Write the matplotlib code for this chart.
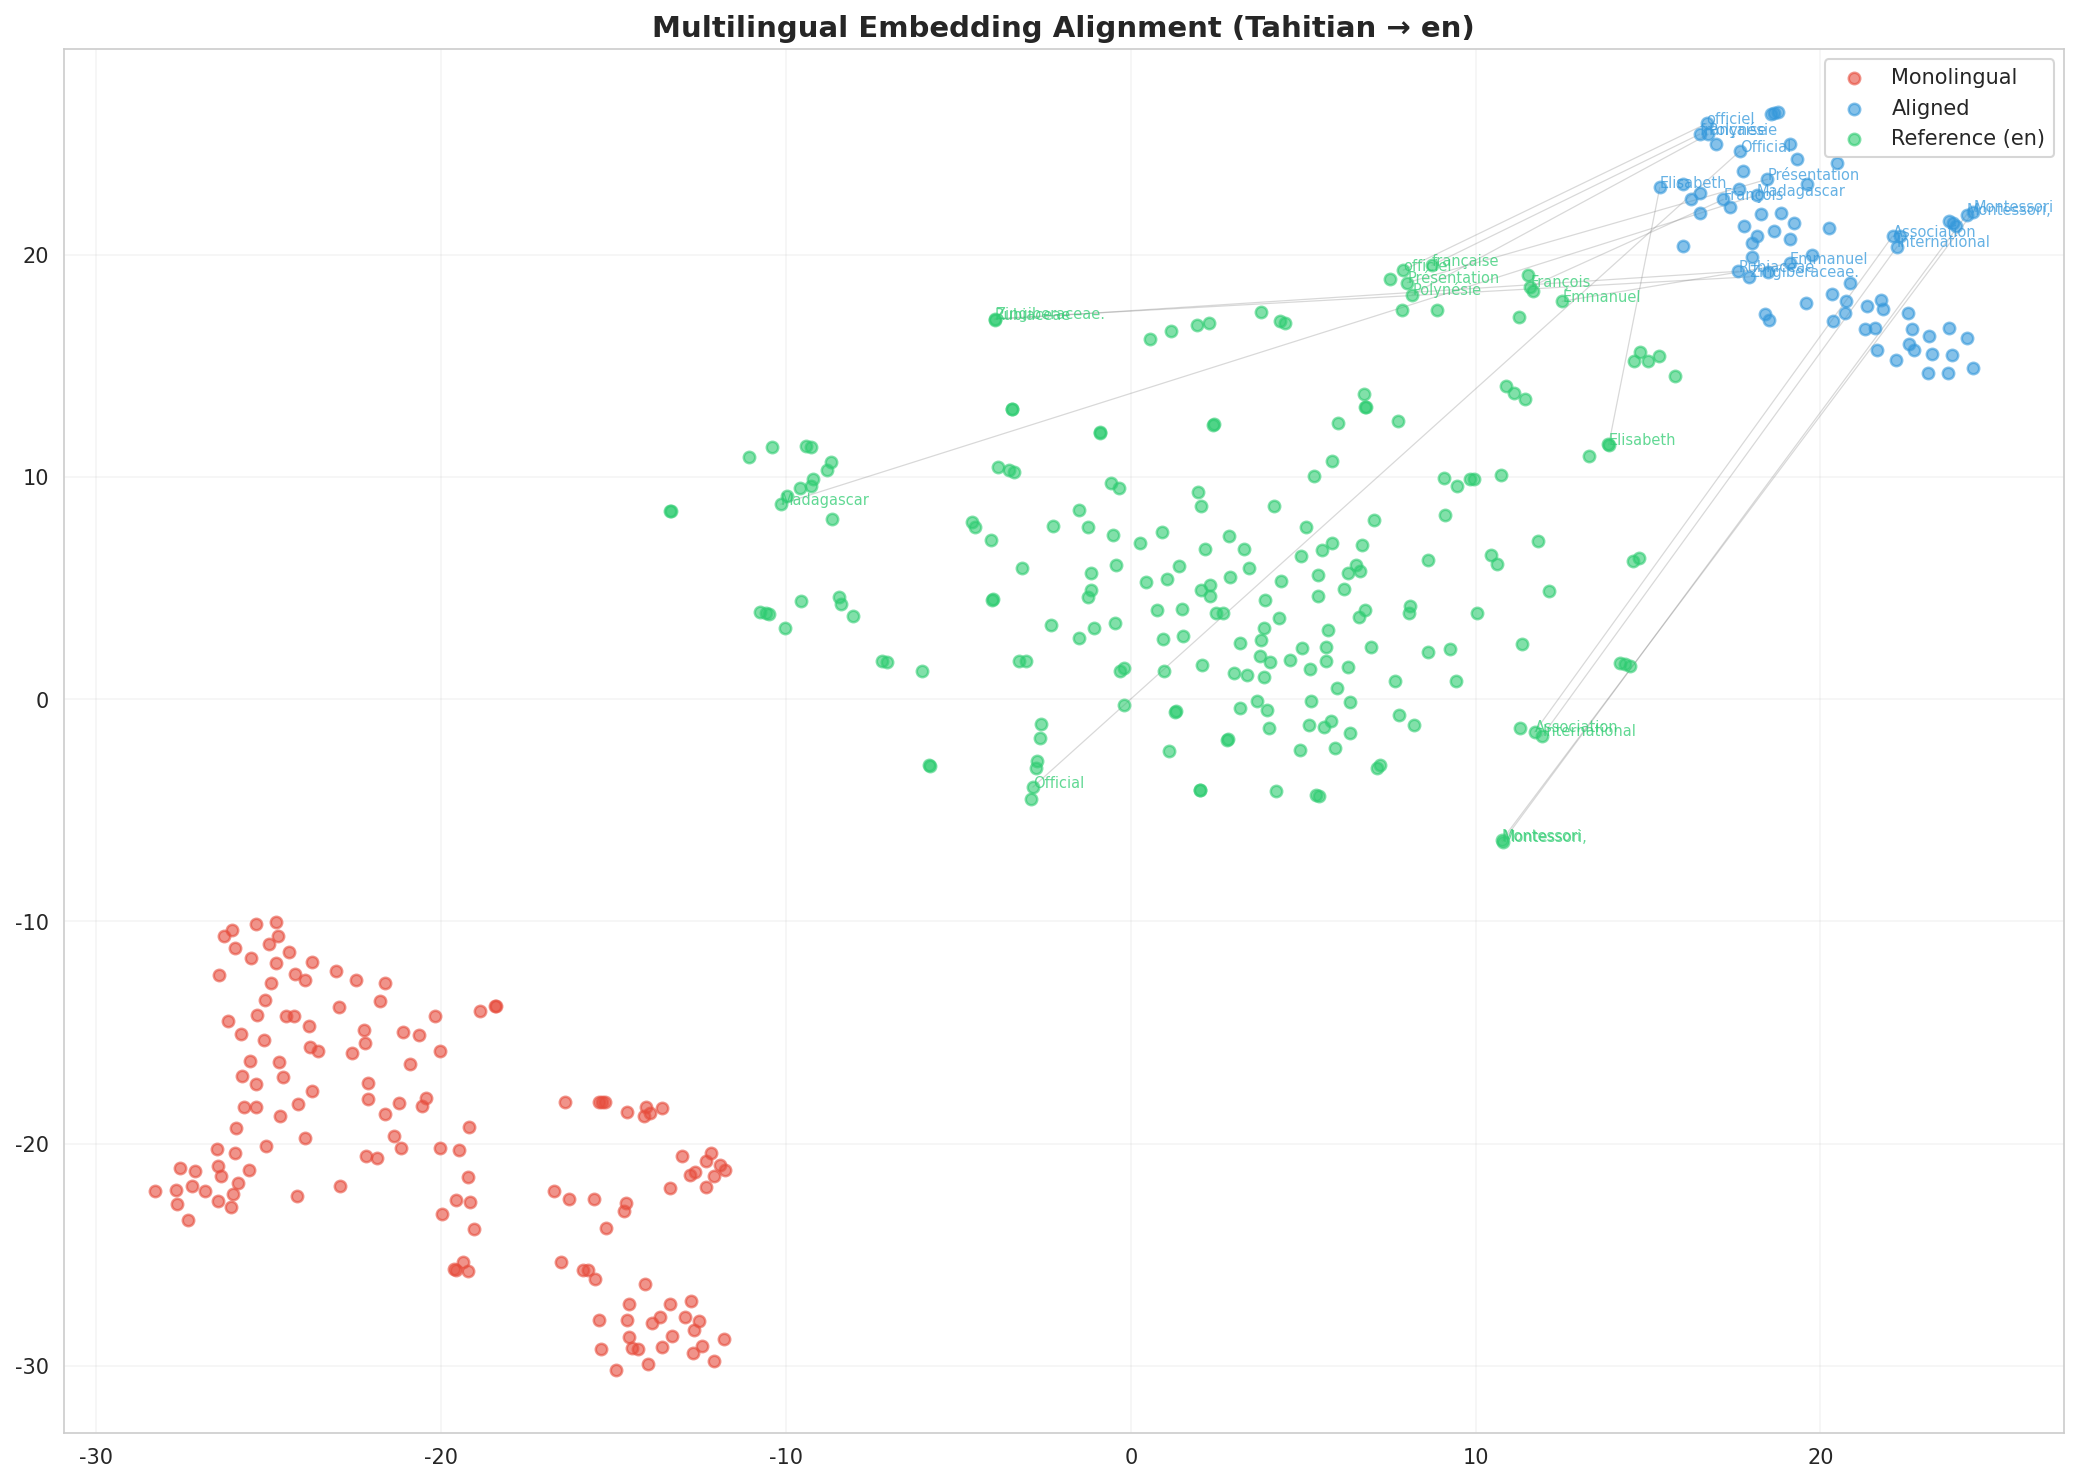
import matplotlib
matplotlib.use("Agg")
import matplotlib.pyplot as plt
import seaborn as sns
import numpy as np

sns.set_style("whitegrid")
plt.rcParams['font.family'] = ['DejaVu Sans']
plt.rcParams['axes.unicode_minus'] = False

# ---------------- data ----------------
mono_x = [-26.07, -26.30, -25.38, -24.80, -24.74, -25.00, -25.98, -24.42, -25.52, -24.78,
          -23.73, -26.43, -24.25, -23.96, -23.05, -22.47, -21.63, -24.94, -25.11, -22.97,
          -21.76, -25.35, -24.51, -24.27, -26.19, -23.84, -25.81, -25.14, -22.24, -22.22,
          -21.11, -20.65, -20.18, -18.86, -18.45, -18.40, -23.79, -23.58, -22.59, -20.04,
          -25.55, -24.71, -20.91, -25.78, -24.59, -25.36, -23.73, -22.11, -22.12, -25.72,
          -25.38, -24.14, -21.23, -20.44, -20.56, -21.64, -24.68, -25.94, -19.20, -23.95,
          -21.37, -21.17, -26.49, -25.98, -25.07, -20.04, -19.47, -22.19, -21.87, -27.58,
          -27.14, -26.46, -26.39, -25.58, -27.23, -25.90, -19.22, -28.31, -27.70, -26.85,
          -26.04, -24.19, -22.92, -27.67, -26.46, -26.08, -19.57, -19.15, -27.35, -19.96,
          -19.05, -19.63, -19.56, -19.35, -19.23,
          -16.41, -15.42, -15.33, -15.25, -14.60, -14.07, -13.94, -14.12, -13.60, -13.00,
          -12.18, -12.33, -11.92, -11.78, -12.10, -12.79, -12.64, -12.33, -13.37, -16.74,
          -16.30, -15.57, -14.64, -14.70, -15.22, -16.53, -15.88, -15.75, -15.54, -14.10,
          -14.56, -13.37, -12.74, -15.41, -14.62, -13.89, -13.66, -12.94, -12.53, -12.66,
          -14.54, -13.29, -11.81, -12.44, -15.35, -14.47, -14.30, -13.58, -12.69, -12.10,
          -14.00, -14.93]
mono_y = [-10.38, -10.68, -10.11, -10.02, -10.65, -11.01, -11.19, -11.37, -11.64, -11.89,
          -11.82, -12.40, -12.39, -12.63, -12.22, -12.63, -12.76, -12.76, -13.53, -13.84,
          -13.57, -14.20, -14.25, -14.25, -14.47, -14.70, -15.06, -15.33, -14.91, -15.46,
          -14.97, -15.10, -14.25, -14.05, -13.80, -13.80, -15.67, -15.82, -15.91, -15.82,
          -16.27, -16.32, -16.41, -16.95, -16.99, -17.34, -17.62, -17.26, -17.98, -18.37,
          -18.34, -18.21, -18.16, -17.97, -18.31, -18.66, -18.78, -19.29, -19.24, -19.74,
          -19.68, -20.19, -20.23, -20.41, -20.10, -20.19, -20.28, -20.58, -20.67, -21.12,
          -21.22, -21.00, -21.45, -21.21, -21.90, -21.76, -21.52, -22.15, -22.11, -22.15,
          -22.26, -22.35, -21.93, -22.71, -22.60, -22.84, -22.56, -22.62, -23.43, -23.19,
          -23.83, -25.63, -25.71, -25.33, -25.74,
          -18.11, -18.11, -18.11, -18.11, -18.57, -18.36, -18.61, -18.78, -18.42, -20.58,
          -20.43, -20.80, -20.98, -21.21, -21.45, -21.40, -21.30, -21.94, -22.02, -22.15,
          -22.51, -22.51, -22.69, -23.02, -23.82, -25.32, -25.68, -25.71, -26.08, -26.34,
          -27.21, -27.24, -27.09, -27.96, -27.96, -28.06, -27.81, -27.79, -28.00, -28.41,
          -28.69, -28.65, -28.81, -29.10, -29.26, -29.22, -29.26, -29.16, -29.41, -29.77,
          -29.91, -30.21]

aligned_x = [18.57, 18.66, 18.76, 16.97, 19.12, 19.33, 20.49, 17.76, 16.02, 16.52,
             16.24, 17.65, 19.60, 17.37, 16.51, 18.28, 18.86, 19.24, 17.78, 18.66,
             18.17, 19.12, 18.02, 20.26, 16.02, 18.02, 19.76, 18.49, 20.86, 20.34,
             20.74, 20.71, 19.59, 18.39, 18.52, 20.37, 21.35, 21.75, 21.82, 21.29,
             21.58, 21.64, 22.19, 22.54, 22.65, 22.58, 22.71, 23.15, 23.73, 24.25,
             23.24, 23.81, 24.43, 23.13, 23.71, 23.74, 23.83, 23.93, 22.30]
aligned_y = [26.31, 26.35, 26.42, 24.97, 24.97, 24.32, 24.10, 23.75, 23.17, 22.79,
             22.52, 22.97, 23.17, 22.12, 21.85, 21.82, 21.85, 21.40, 21.28, 21.05,
             20.83, 20.72, 20.53, 21.19, 20.38, 19.90, 20.00, 19.22, 18.74, 18.22,
             17.92, 17.39, 17.84, 17.32, 17.05, 17.00, 17.68, 17.98, 17.57, 16.64,
             16.72, 15.70, 15.25, 17.39, 16.67, 15.99, 15.70, 16.33, 16.69, 16.27,
             15.55, 15.50, 14.92, 14.69, 14.69, 21.50, 21.40, 21.29, 20.85]

ref_x = [-11.06, -10.41, -9.41, -9.27, -8.70, -8.81, -9.22, -9.27, -9.60, -9.98,
         -8.65, -13.36, -13.34, -9.57, -10.74, -10.59, -10.50, -10.03, -8.47, -8.39,
         -8.06, -7.21, -7.06, -6.06, -5.85, -5.83,
         0.56, 1.18, 1.91, 2.27, 3.78, 4.34, 4.46, 7.87, 8.88, 7.52,
         11.53, 11.66, 11.26, 14.76, 14.59, 14.99, 15.33, 15.79,
         -3.45, -3.43, -0.90, -0.88, 2.38, 2.40, 6.77, 6.82, 6.80, 6.01,
         7.74, 10.88, 11.12, 11.43, -3.86, -3.54, -3.39, 5.83, 5.31, 13.84,
         13.29, 9.09, 9.46, 9.84, 9.96, 10.75, -0.58, -0.34, 1.95, 2.03,
         4.15, 9.10, 7.05, -4.60, -4.51, -4.06, -1.50, -2.25, -1.24, -0.52,
         0.27, 0.90, 2.86, 2.16, 3.29, 5.08, 5.83, 5.55, 6.71, 8.62,
         10.45, 10.61, 11.81, -3.15, -1.15, -0.43, 1.41, 3.43, 4.93, 6.54,
         6.66, 6.29, 5.43, 0.44, 1.05, 2.30, 2.04, 2.30, 2.89, 4.35,
         6.17, 5.43, 3.89, -1.15, -1.24, 12.14, 14.56, 14.74, -4.01, -3.99,
         -2.31, -1.06, -0.46, -1.49, 0.75, 1.48, 2.47, 2.68, 4.31, 3.86,
         6.62, 6.79, 8.07, 8.10, 10.05, 0.93, 1.51, 3.17, 3.78, 5.71,
         5.67, 4.96, 6.96, 11.35, 8.62, 9.27, -3.23, -3.03, -0.31, -0.19,
         0.96, 2.06, 2.99, 3.38, 3.86, 3.75, 4.04, 4.62, 5.20, 5.67,
         6.31, 7.65, 9.43, 5.99, 14.20, 14.34, 14.49, -0.19, 1.29, 1.31,
         3.17, 3.66, 3.95, 5.23, 6.37, 7.77, 8.22, -2.60, -2.63, 4.01,
         5.17, 5.61, 5.82, 6.37, 11.28, 2.80, 2.82, 1.10, 4.90, 5.92,
         7.15, 7.24, -2.72, -2.74, -2.90, 2.00, 2.02, 4.20, 5.37, 5.46]
ref_y = [10.88, 11.33, 11.39, 11.33, 10.69, 10.33, 9.89, 9.58, 9.49, 9.13,
         8.09, 8.45, 8.48, 4.40, 3.94, 3.88, 3.85, 3.19, 4.61, 4.30,
         3.73, 1.70, 1.66, 1.25, -2.98, -3.01,
         16.22, 16.55, 16.85, 16.94, 17.41, 17.00, 16.94, 17.50, 17.50, 18.92,
         19.10, 18.37, 17.21, 15.62, 15.22, 15.20, 15.43, 14.53,
         13.04, 13.07, 11.98, 12.01, 12.35, 12.38, 13.75, 13.13, 13.16, 12.44,
         12.53, 14.11, 13.79, 13.52, 10.46, 10.30, 10.24, 10.73, 10.06, 11.50,
         10.96, 9.97, 9.61, 9.92, 9.92, 10.10, 9.71, 9.52, 9.34, 8.71,
         8.71, 8.30, 8.08, 7.96, 7.75, 7.18, 8.50, 7.78, 7.73, 7.40,
         7.04, 7.54, 7.33, 6.77, 6.77, 7.73, 7.04, 6.72, 6.95, 6.28,
         6.47, 6.10, 7.13, 5.92, 5.69, 6.05, 5.98, 5.92, 6.43, 6.02,
         5.77, 5.69, 5.57, 5.26, 5.42, 5.14, 4.93, 4.64, 5.48, 5.30,
         4.97, 4.66, 4.48, 4.93, 4.60, 4.86, 6.23, 6.36, 4.48, 4.51,
         3.35, 3.22, 3.44, 2.77, 3.99, 4.04, 3.89, 3.89, 3.67, 3.22,
         3.70, 3.99, 3.89, 4.19, 3.89, 2.72, 2.86, 2.54, 2.67, 3.13,
         2.36, 2.32, 2.36, 2.50, 2.14, 2.27, 1.73, 1.73, 1.28, 1.39,
         1.28, 1.55, 1.19, 1.10, 1.01, 1.96, 1.69, 1.78, 1.37, 1.73,
         1.46, 0.83, 0.83, 0.52, 1.64, 1.60, 1.51, -0.25, -0.56, -0.53,
         -0.38, -0.07, -0.47, -0.07, -0.12, -0.73, -1.15, -1.10, -1.73, -1.28,
         -1.15, -1.25, -0.97, -1.51, -1.28, -1.84, -1.81, -2.35, -2.30, -2.18,
         -3.08, -2.98, -2.79, -3.09, -4.48, -4.10, -4.07, -4.12, -4.30, -4.37]

# words shown as labels: position in the aligned space and in the reference (en) space
words = ['officiel', 'française', 'Polynésie', 'Official', 'Présentation', 'Elisabeth',
         'Madagascar', 'François', 'Emmanuel', 'Rubiaceae', 'Zingiberaceae.',
         'Association', 'International', 'Montessori', 'Montessori,']
word_aligned_x = [16.70, 16.50, 16.75, 17.66, 18.46, 15.34, 18.15, 17.18, 19.12, 17.62,
                  17.94, 22.09, 22.22, 24.43, 24.24]
word_aligned_y = [25.90, 25.42, 25.42, 24.65, 23.39, 23.02, 22.67, 22.48, 19.60, 19.25,
                  19.00, 20.83, 20.35, 21.92, 21.80]
word_ref_x = [7.90, 8.73, 8.16, -2.84, 8.02, 13.86, -10.15, 11.59, 12.51, -3.95,
              -3.93, 11.71, 11.93, 10.76, 10.79]
word_ref_y = [19.30, 19.52, 18.20, -3.96, 18.74, 11.45, 8.77, 18.55, 17.90, 17.08,
              17.12, -1.48, -1.66, -6.35, -6.41]

# ---------------- plot ----------------
RED, BLUE, GREEN = '#e74c3c', '#3498db', '#2ecc71'

fig, ax = plt.subplots(figsize=(14, 10))

for axx, ayy, rxx, ryy in zip(word_aligned_x, word_aligned_y, word_ref_x, word_ref_y):
    ax.plot([axx, rxx], [ayy, ryy], color='gray', alpha=0.3, linewidth=0.6, zorder=1)

kw = dict(s=30, alpha=0.6, linewidths=1.2, edgecolors='face', zorder=2)
ax.scatter(mono_x, mono_y, c=RED, label='Monolingual', **kw)
ax.scatter(aligned_x + word_aligned_x, aligned_y + word_aligned_y, c=BLUE,
           label='Aligned', **kw)
ax.scatter(ref_x + word_ref_x, ref_y + word_ref_y, c=GREEN,
           label='Reference (en)', **kw)

for w, x, y in zip(words, word_aligned_x, word_aligned_y):
    ax.annotate(w, (x, y), fontsize=7, color=BLUE, alpha=0.75)
for w, x, y in zip(words, word_ref_x, word_ref_y):
    ax.annotate(w, (x, y), fontsize=7, color=GREEN, alpha=0.75)

ax.set_title('Multilingual Embedding Alignment (Tahitian \u2192 en)', fontsize=14,
             fontweight='bold')
ax.grid(True, alpha=0.2)
ax.legend(loc='upper right', fontsize=10)

plt.tight_layout()
fig.savefig('out.png', dpi=150, bbox_inches='tight')
